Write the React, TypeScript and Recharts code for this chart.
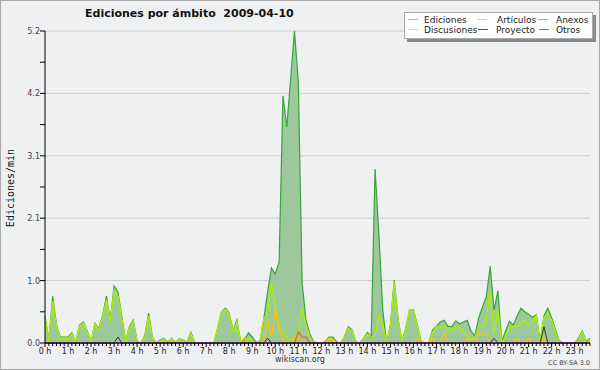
import { ComposedChart, Area, Line, XAxis, YAxis, CartesianGrid } from "recharts"

// Ediciones por minuto, one value every 10 minutes from 00:00 to 23:40 (two hours per row)
const ediciones = [
  0.45, 0.05, 0.78, 0.3, 0.1, 0.1, 0.1, 0.17, 0.02, 0.3, 0.35, 0.2,
  0.02, 0.33, 0.24, 0.45, 0.78, 0.38, 0.95, 0.85, 0.45, 0.03, 0.28, 0.38,
  0.03, 0, 0.12, 0.5, 0.1, 0, 0.05, 0.08, 0.01, 0.08, 0.01, 0.07,
  0.05, 0.01, 0.18, 0.01, 0, 0, 0, 0, 0, 0.25, 0.52, 0.58,
  0.5, 0.2, 0.38, 0.02, 0.05, 0.17, 0.1, 0.01, 0.02, 0.4, 0.85, 1.25,
  1.15, 1.35, 4.12, 3.6, 4.4, 5.2, 4.35, 1.0, 0.38, 0.15, 0.02, 0,
  0, 0.02, 0.1, 0.1, 0.02, 0, 0.1, 0.27, 0.22, 0.02, 0, 0.08,
  0.18, 0.1, 2.9, 1.8, 0.55, 0, 0.3, 1.05, 0.4, 0.02, 0.25, 0.55,
  0.55, 0.3, 0.02, 0, 0, 0.22, 0.28, 0.35, 0.38, 0.28, 0.27, 0.37,
  0.32, 0.35, 0.38, 0.2, 0.12, 0.42, 0.6, 0.78, 1.28, 0.55, 0.87, 0.02,
  0.2, 0.36, 0.3, 0.45, 0.58, 0.52, 0.48, 0.43, 0.47, 0.02, 0.45, 0.58,
  0.42, 0.22, 0.04, 0, 0, 0, 0, 0.08, 0.2, 0.02, 0.08,
]

const articulos = [
  0.42, 0.03, 0.7, 0.28, 0.08, 0.08, 0.08, 0.15, 0.01, 0.28, 0.33, 0.18,
  0.01, 0.32, 0.22, 0.42, 0.72, 0.36, 0.88, 0.78, 0.42, 0.02, 0.26, 0.36,
  0.02, 0, 0.1, 0.45, 0.08, 0, 0.03, 0.07, 0, 0.07, 0, 0.06,
  0.04, 0, 0.16, 0, 0, 0, 0, 0, 0, 0.25, 0.52, 0.56,
  0.48, 0.18, 0.35, 0.01, 0, 0.08, 0.04, 0, 0.02, 0.4, 0.48, 1.0,
  0.6, 0.3, 0.18, 0.1, 0.03, 0.12, 0.2, 0.58, 0.3, 0.1, 0, 0,
  0, 0, 0.05, 0.06, 0, 0, 0.1, 0.25, 0.2, 0.02, 0, 0.08,
  0.15, 0.1, 0.12, 0.45, 0.3, 0, 0.28, 1.02, 0.38, 0.01, 0.24, 0.55,
  0.53, 0.28, 0, 0, 0, 0.18, 0.27, 0.27, 0.27, 0.22, 0.2, 0.27,
  0.27, 0.18, 0.12, 0.05, 0.1, 0.25, 0.27, 0.4, 0.85, 0.15, 0.55, 0,
  0.1, 0.27, 0.27, 0.28, 0.3, 0.38, 0.3, 0.35, 0.45, 0, 0.42, 0.5,
  0.38, 0.18, 0.03, 0, 0, 0, 0, 0.06, 0.18, 0, 0.06,
]

const discusiones = [
  0, 0, 0, 0, 0, 0, 0, 0, 0, 0, 0, 0,
  0, 0, 0, 0, 0, 0, 0, 0, 0, 0, 0, 0,
  0, 0, 0, 0, 0, 0, 0, 0, 0, 0, 0, 0,
  0, 0, 0, 0, 0, 0, 0, 0, 0, 0, 0, 0,
  0, 0, 0, 0, 0.1, 0, 0, 0, 0, 0, 0.38, 0.1,
  0.55, 0.25, 0.05, 0.02, 0, 0.05, 0.1, 0, 0, 0, 0, 0,
  0, 0, 0.08, 0.06, 0, 0, 0, 0, 0, 0, 0, 0,
  0, 0, 0, 0, 0, 0, 0, 0, 0, 0, 0, 0,
  0, 0.08, 0.02, 0, 0, 0.08, 0, 0, 0.17, 0.02, 0, 0,
  0, 0, 0.08, 0, 0, 0.15, 0.15, 0.15, 0, 0, 0, 0,
  0, 0, 0, 0.08, 0, 0, 0.08, 0, 0, 0, 0.08, 0,
  0, 0, 0, 0, 0, 0, 0, 0, 0, 0, 0,
]

const anexos = [
  0, 0, 0, 0, 0, 0, 0, 0, 0, 0, 0, 0,
  0, 0, 0, 0, 0, 0, 0, 0, 0, 0, 0, 0,
  0, 0, 0, 0, 0, 0, 0, 0, 0, 0, 0, 0,
  0, 0, 0, 0, 0, 0, 0, 0, 0, 0, 0, 0,
  0, 0, 0, 0, 0, 0, 0, 0, 0, 0, 0, 0,
  0, 0, 0, 0, 0, 0, 0.18, 0.1, 0.1, 0, 0, 0,
  0, 0, 0, 0, 0, 0, 0, 0, 0, 0, 0, 0,
  0, 0, 0, 0, 0, 0, 0, 0, 0, 0, 0, 0,
  0, 0, 0, 0, 0, 0, 0, 0, 0, 0, 0, 0,
  0, 0, 0, 0, 0, 0, 0, 0, 0, 0, 0, 0,
  0, 0, 0, 0, 0, 0, 0, 0, 0, 0, 0, 0,
  0, 0, 0, 0, 0, 0, 0, 0, 0, 0, 0,
]

const proyecto = [
  0, 0, 0, 0, 0, 0, 0, 0, 0, 0, 0, 0,
  0, 0, 0, 0, 0, 0, 0, 0.1, 0, 0, 0, 0,
  0, 0, 0, 0, 0, 0, 0, 0, 0, 0, 0, 0,
  0, 0, 0, 0, 0, 0, 0, 0, 0, 0, 0, 0,
  0, 0, 0, 0, 0, 0, 0, 0, 0, 0, 0.08, 0,
  0, 0, 0, 0, 0, 0, 0, 0, 0, 0, 0, 0,
  0, 0, 0, 0, 0, 0, 0, 0, 0, 0, 0, 0,
  0, 0, 0, 0, 0, 0, 0, 0, 0, 0, 0, 0,
  0, 0, 0, 0, 0, 0, 0, 0, 0, 0, 0, 0,
  0, 0, 0, 0, 0, 0, 0, 0, 0, 0.08, 0, 0,
  0, 0, 0, 0, 0, 0, 0, 0, 0, 0, 0.27, 0,
  0, 0, 0, 0, 0, 0, 0, 0, 0, 0, 0,
]

const otros = [
  0, 0, 0, 0, 0, 0, 0, 0, 0, 0, 0, 0,
  0, 0, 0, 0, 0, 0, 0, 0, 0, 0, 0, 0,
  0, 0, 0, 0, 0, 0, 0, 0, 0, 0, 0, 0,
  0, 0, 0, 0, 0, 0, 0, 0, 0, 0, 0, 0,
  0, 0, 0, 0, 0, 0, 0, 0, 0, 0, 0, 0,
  0, 0, 0, 0, 0, 0, 0, 0, 0, 0, 0, 0,
  0, 0, 0, 0, 0, 0, 0, 0, 0, 0, 0, 0,
  0, 0, 0, 0, 0, 0, 0, 0, 0, 0, 0, 0,
  0, 0, 0, 0, 0, 0, 0, 0, 0, 0, 0, 0,
  0, 0, 0, 0, 0, 0, 0, 0, 0, 0, 0, 0,
  0, 0, 0, 0, 0, 0, 0, 0, 0, 0, 0, 0,
  0, 0, 0, 0, 0, 0, 0, 0, 0, 0, 0,
]

const yTicks = [0, 0.52, 1.04, 1.56, 2.08, 2.6, 3.12, 3.64, 4.16, 4.68, 5.2]
const yLabelled = [0, 1.04, 2.08, 3.12, 4.16, 5.2]

const legendItems = [
  { name: "Ediciones", color: "#88cc88", row: 0, lineX: 408, textX: 424 },
  { name: "Artículos", color: "#ccee55", row: 0, lineX: 477, textX: 497 },
  { name: "Anexos", color: "#ff8855", row: 0, lineX: 538, textX: 556 },
  { name: "Discusiones", color: "#ffd855", row: 1, lineX: 408, textX: 424 },
  { name: "Proyecto", color: "#555555", row: 1, lineX: 478, textX: 496 },
  { name: "Otros", color: "#9955ee", row: 1, lineX: 539, textX: 556 },
]

const FONT = "'DejaVu Sans', sans-serif"

const rows = ediciones.map((v, i) => ({
  t: i / 6,
  ediciones: v,
  articulos: articulos[i],
  discusiones: discusiones[i],
  anexos: anexos[i],
  proyecto: proyecto[i],
  otros: otros[i],
}))
const xTicks = rows.map(r => r.t)

function HourTick({ x, y, payload }: any) {
  const slot = Math.round(payload.value * 6)
  const isHour = slot % 6 === 0
  return (
    <g>
      <line x1={x} x2={x} y1={y} y2={y + (isHour ? 4 : 3)} stroke="#000" />
      {isHour && (
        <text x={x} y={y + 10.5} textAnchor="middle" fontSize={8} fontFamily={FONT} fill="#222">
          {`${slot / 6} h`}
        </text>
      )}
    </g>
  )
}

function RateTick({ x, y, payload }: any) {
  const v = payload.value
  const labelled = yLabelled.some(m => Math.abs(m - v) < 1e-6)
  return (
    <g>
      <line x1={x - 5} x2={x} y1={y} y2={y} stroke="#000" />
      {labelled && (
        <text x={x - 5} y={y + 3} textAnchor="end" fontSize={8} fontFamily={FONT} fill="#444">
          {v.toFixed(1)}
        </text>
      )}
    </g>
  )
}

export default function App() {
  return (
    <div style={{ position: "absolute", left: 0, top: 0, width: 600, height: 370, background: "#eff0f2" }}>
      <ComposedChart width={600} height={370} data={rows} margin={{ top: 31, right: 10, bottom: 7, left: 0 }}>
        <CartesianGrid vertical={false} stroke="#cccccc" horizontalValues={yLabelled.slice(1)} />
        <Area type="linear" dataKey="ediciones" stroke="#36a636" strokeWidth={1.2} fill="#9cc89c" fillOpacity={1} dot={false} activeDot={false} isAnimationActive={false} />
        <Line type="linear" dataKey="articulos" stroke="#aaee00" strokeWidth={1.4} dot={false} activeDot={false} isAnimationActive={false} />
        <Line type="linear" dataKey="discusiones" stroke="#ffc400" strokeWidth={1.2} dot={false} activeDot={false} isAnimationActive={false} />
        <Line type="linear" dataKey="anexos" stroke="#ff5522" strokeWidth={1.2} dot={false} activeDot={false} isAnimationActive={false} />
        <Line type="linear" dataKey="proyecto" stroke="#333333" strokeWidth={1} dot={false} activeDot={false} isAnimationActive={false} />
        <Line type="linear" dataKey="otros" stroke="#9933ff" strokeWidth={1} dot={false} activeDot={false} isAnimationActive={false} />
        <XAxis
          dataKey="t"
          type="number"
          domain={[0, 142 / 6]}
          ticks={xTicks}
          interval={0}
          height={20}
          tickSize={0}
          tickMargin={0}
          tickLine={false}
          axisLine={{ stroke: "#000" }}
          tick={<HourTick />}
        />
        <YAxis
          type="number"
          domain={[0, 5.2]}
          ticks={yTicks}
          interval={0}
          width={45}
          tickSize={0}
          tickMargin={0}
          tickLine={false}
          axisLine={{ stroke: "#000" }}
          tick={<RateTick />}
        />
      </ComposedChart>
      <svg width={600} height={370} style={{ position: "absolute", left: 0, top: 0, pointerEvents: "none" }}>
        <text x={85} y={17} fontSize={11} fontWeight="bold" fontFamily={FONT} fill="#111" style={{ whiteSpace: "pre" }}>
          {"Ediciones por ámbito  2009-04-10"}
        </text>
        <text transform="translate(13.5,188) rotate(-90)" textAnchor="middle" fontSize={10} fontFamily="'DejaVu Sans Mono', monospace" fill="#111">
          Ediciones/min
        </text>
        <text x={300} y={362} textAnchor="middle" fontSize={8} fontFamily={FONT} fill="#333">wikiscan.org</text>
        <text x={590} y={365} textAnchor="end" fontSize={6.5} fontFamily={FONT} fill="#444">CC BY-SA 3.0</text>
        <rect x={407} y={15} width={189} height={27} fill="#8a8a8a" />
        <rect x={404.5} y={12.5} width={188} height={26} fill="#fff" stroke="#aaa" />
        {legendItems.map(item => {
          const cy = item.row === 0 ? 19.5 : 29.5
          return (
            <g key={item.name}>
              <line x1={item.lineX} x2={item.lineX + 10} y1={cy} y2={cy} stroke={item.color} />
              <text x={item.textX} y={cy + 3.2} fontSize={9} fontFamily={FONT} fill="#222">{item.name}</text>
            </g>
          )
        })}
        <rect x={0.5} y={0.5} width={599} height={369} fill="none" stroke="#a8a8a8" />
      </svg>
    </div>
  )
}
